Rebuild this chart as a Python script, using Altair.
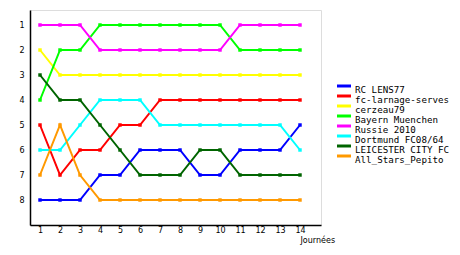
import altair as alt
import pandas as pd

days = list(range(1, 15))
teams = ["RC LENS77", "fc-larnage-serves", "cerzeau79", "Bayern Muenchen",
         "Russie 2010", "Dortmund FC08/64", "LEICESTER CITY FC", "All_Stars_Pepito"]
colors = ["#0000FF", "#FF0000", "#FFFF00", "#00FF00",
          "#FF00FF", "#00FFFF", "#006400", "#FF9900"]

rc_lens = [8, 8, 8, 7, 7, 6, 6, 6, 7, 7, 6, 6, 6, 5]
larnage = [5, 7, 6, 6, 5, 5, 4, 4, 4, 4, 4, 4, 4, 4]
cerzeau = [2, 3, 3, 3, 3, 3, 3, 3, 3, 3, 3, 3, 3, 3]
bayern = [4, 2, 2, 1, 1, 1, 1, 1, 1, 1, 2, 2, 2, 2]
russie = [1, 1, 1, 2, 2, 2, 2, 2, 2, 2, 1, 1, 1, 1]
dortmund = [6, 6, 5, 4, 4, 4, 5, 5, 5, 5, 5, 5, 5, 6]
leicester = [3, 4, 4, 5, 6, 7, 7, 7, 6, 6, 7, 7, 7, 7]
allstars = [7, 5, 7, 8, 8, 8, 8, 8, 8, 8, 8, 8, 8, 8]

series = [rc_lens, larnage, cerzeau, bayern, russie, dortmund, leicester, allstars]
rows = []
for t, vals in zip(teams, series):
    for d, v in zip(days, vals):
        rows.append({"Journée": d, "Rang": v, "Equipe": t})
df = pd.DataFrame(rows)
leg_df = pd.DataFrame({"Equipe": teams})

cscale = alt.Scale(domain=teams, range=colors)

x = alt.X("Journée:Q", scale=alt.Scale(domain=[0.5, 15.05], nice=False, zero=False),
          axis=alt.Axis(values=days, format="d", grid=False, ticks=False,
                        labelPadding=1, labelFont="DejaVu Sans", labelFontSize=8,
                        labelColor="#000000", domainColor="#000000", domainWidth=1.5,
                        title="Journées", titleFont="DejaVu Sans", titleFontSize=8,
                        titleFontWeight="normal", titleColor="#000000",
                        titleX=270, titleY=15, titleAlign="left", titleBaseline="middle",
                        labelFlush=False))
y = alt.Y("Rang:Q", scale=alt.Scale(domain=[0.4, 9], reverse=True, nice=False, zero=False),
          axis=alt.Axis(values=list(range(1, 9)), format="d", grid=False, ticks=False,
                        labelPadding=6, labelFont="DejaVu Sans", labelFontSize=8,
                        labelColor="#000000", domainColor="#000000", domainWidth=1.5,
                        title=None))

base = alt.Chart(df)
lines = base.mark_line(strokeWidth=2).encode(
    x=x, y=y, color=alt.Color("Equipe:N", scale=cscale, legend=None), detail="Equipe:N")
points = base.mark_point(shape="square", filled=True, size=12, opacity=1).encode(
    x=x, y=y, color=alt.Color("Equipe:N", scale=cscale, legend=None))
data_layer = alt.layer(lines, points)

leg_y = alt.Y("Equipe:N", sort=teams,
              scale=alt.Scale(type="point", domain=teams, range=[80, 150], padding=0),
              axis=None)
leg_base = alt.Chart(leg_df)
swatches = leg_base.mark_rule(strokeWidth=3, yOffset=-4).encode(
    x=alt.value(307), x2=alt.value(321), y=leg_y,
    color=alt.Color("Equipe:N", scale=cscale, legend=None))
labels = leg_base.mark_text(align="left", baseline="middle", font="DejaVu Sans Mono",
                            fontSize=9.2, color="#000000").encode(
    x=alt.value(325), y=leg_y, text="Equipe:N")
legend_layer = alt.layer(swatches, labels)

chart = alt.layer(data_layer, legend_layer).resolve_scale(y="independent").properties(
    width=291, height=215,
    autosize=alt.AutoSizeParams(type="none"),
    padding={"left": 30, "top": 10, "right": 139, "bottom": 30},
).configure_view(stroke=None).configure(background="#FFFFFF")

chart.save("out.html", embed_options={"renderer": "svg", "actions": False})
